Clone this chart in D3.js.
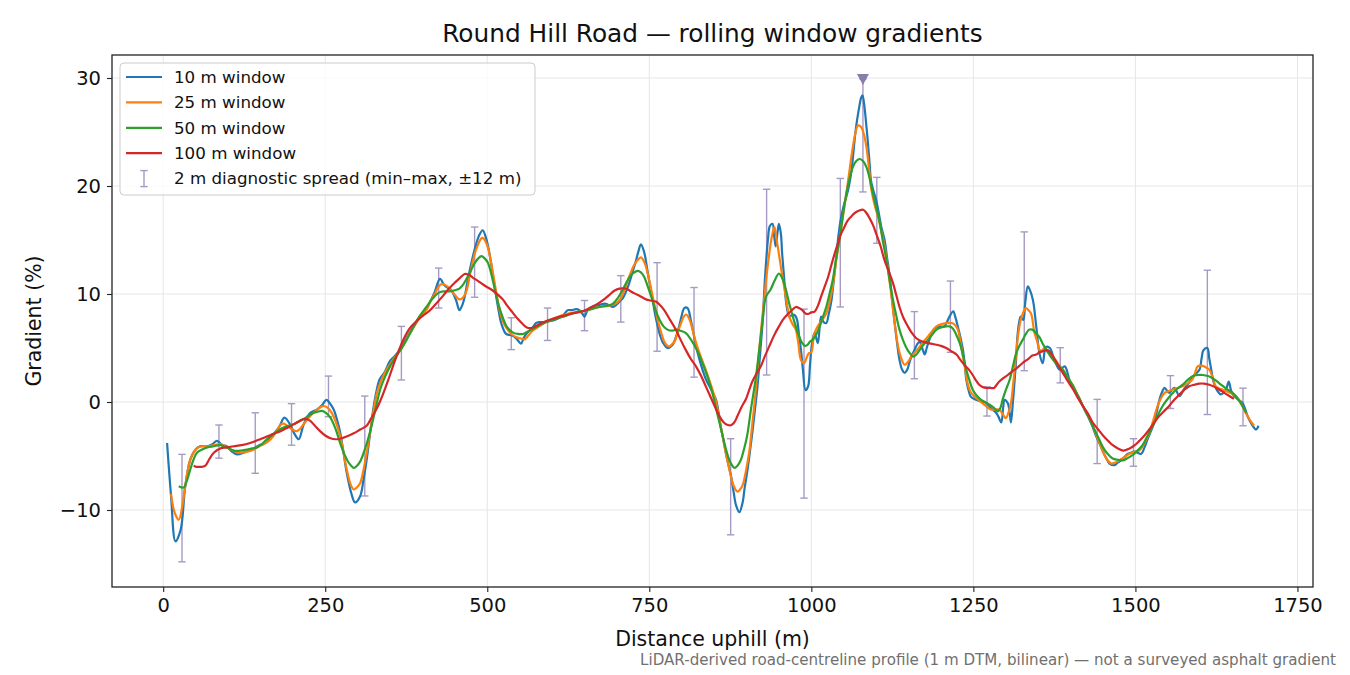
<!DOCTYPE html>
<html>
<head>
<meta charset="utf-8">
<script src="https://cdn.jsdelivr.net/npm/d3@7"></script>
<style>
  html, body { margin: 0; padding: 0; background: #fff; }
  svg { display: block; font-family: "DejaVu Sans", sans-serif; }
</style>
</head>
<body>
<div id="chart"></div>
<script>
// rolling window gradient series, [distance m, gradient %]
const win10 = [[6,-3.8],[12,-8.6],[19,-12.9],[27,-11.8],[34,-7.8],[42,-5.3],[50,-4.4],[57,-4.1],[68,-4.1],[76,-3.9],[83,-3.6],[91,-4.0],[98,-4.1],[106,-4.6],[114,-4.85],[124,-4.7],[132,-4.5],[140,-4.3],[148,-4.0],[155,-3.9],[163,-3.5],[170,-3.0],[179,-2.3],[187,-1.45],[196,-2.1],[203,-3.0],[209,-3.45],[216,-2.2],[222,-1.4],[227,-1.0],[237,-0.7],[245,-0.3],[252,0.2],[258,-0.2],[263,-0.7],[268,-1.6],[273,-2.8],[278,-4.6],[283,-6.5],[290,-8.4],[296,-9.3],[304,-8.7],[309,-7.2],[314,-5.3],[319,-3.0],[324,-0.7],[329,1.0],[334,2.1],[342,2.8],[350,3.8],[358,4.3],[367,5.0],[376,6.0],[385,6.9],[395,7.8],[406,8.6],[412,9.3],[419,10.2],[427,11.4],[434,10.8],[445,10.3],[452,9.4],[457,8.5],[461,8.9],[465,9.7],[469,11.0],[473,12.2],[480,14.0],[488,15.5],[493,15.9],[498,15.2],[502,14.2],[506,12.8],[510,11.2],[514,9.7],[518,8.3],[522,7.2],[529,6.3],[535,6.2],[540,6.1],[546,5.8],[552,5.4],[556,5.9],[560,6.3],[570,6.9],[575,7.3],[581,7.4],[589,7.4],[596,7.5],[604,7.6],[611,7.8],[618,8.1],[624,8.5],[630,8.5],[637,8.6],[642,8.5],[647,8.15],[650,7.9],[654,8.4],[658,8.7],[665,8.9],[673,9.0],[683,9.1],[693,8.8],[699,9.0],[704,9.3],[709,9.6],[714,10.2],[719,11.0],[724,12.0],[729,13.0],[733,13.9],[737,14.6],[742,13.9],[747,12.2],[751,10.8],[755,9.5],[759,8.1],[763,7.0],[767,6.1],[771,5.5],[778,5.0],[786,5.3],[791,6.0],[796,7.0],[800,8.0],[804,8.7],[809,8.7],[814,7.6],[818,6.4],[822,5.2],[827,4.0],[832,3.0],[838,2.0],[845,1.2],[850,0.6],[853,0.2],[857,-1.0],[860,-2.2],[864,-3.4],[868,-4.7],[872,-5.8],[876,-6.8],[880,-8.3],[884,-9.6],[889,-10.2],[894,-9.3],[897,-8.0],[901,-6.5],[905,-4.7],[909,-2.8],[913,-0.7],[917,1.5],[921,4.5],[925,7.6],[928,11.0],[930,12.8],[933,15.0],[936,16.3],[940,16.5],[943,15.2],[945,14.4],[948,15.8],[950,16.5],[953,15.6],[955,13.7],[958,11.5],[960,9.8],[963,8.5],[966,7.9],[971,8.1],[975,8.0],[978,7.6],[981,6.2],[984,4.8],[987,3.0],[991,1.1],[995,1.45],[998,3.5],[1001,5.4],[1005,6.4],[1010,5.45],[1015,7.9],[1019,7.4],[1023,7.3],[1027,8.2],[1031,9.4],[1035,11.5],[1039,13.7],[1042,15.5],[1046,17.1],[1050,18.2],[1054,19.0],[1058,20.0],[1062,21.45],[1066,23.8],[1069,25.45],[1073,27.0],[1077,28.2],[1079,28.4],[1082,27.3],[1085,25.5],[1087,24.2],[1090,22.0],[1092,20.5],[1096,19.5],[1100,18.7],[1104,17.5],[1108,16.2],[1113,15.0],[1117,13.3],[1121,11.6],[1124,9.8],[1128,7.6],[1132,5.6],[1136,3.9],[1140,3.0],[1144,2.7],[1148,3.0],[1151,3.6],[1155,4.3],[1159,4.8],[1163,5.3],[1167,5.6],[1171,5.0],[1175,4.4],[1178,5.0],[1182,5.75],[1186,6.4],[1190,6.8],[1198,7.0],[1205,7.0],[1210,7.5],[1213,7.9],[1219,8.4],[1222,7.9],[1226,7.0],[1230,6.0],[1234,4.8],[1237,3.3],[1239,2.1],[1243,1.0],[1246,0.5],[1254,0.2],[1262,0.06],[1270,-0.1],[1277,-0.55],[1285,-1.0],[1289,-1.4],[1293,-1.9],[1296,-0.5],[1298,0.2],[1303,-0.1],[1306,-1.0],[1308,-1.9],[1311,0.0],[1313,1.5],[1316,4.0],[1318,6.1],[1321,7.5],[1323,7.9],[1327,7.6],[1330,9.2],[1334,10.7],[1337,10.4],[1342,9.4],[1347,7.0],[1352,4.5],[1357,3.6],[1362,5.1],[1368,5.0],[1375,3.9],[1383,3.0],[1391,3.3],[1398,2.1],[1403,1.4],[1409,0.85],[1414,0.3],[1419,-0.4],[1424,-1.0],[1429,-1.6],[1434,-2.3],[1439,-3.1],[1445,-3.9],[1450,-4.6],[1455,-5.2],[1460,-5.7],[1468,-5.85],[1473,-5.6],[1478,-5.4],[1483,-5.1],[1488,-4.8],[1493,-4.7],[1498,-4.6],[1503,-4.7],[1509,-4.8],[1514,-4.2],[1519,-3.4],[1524,-2.7],[1529,-1.9],[1533,-0.9],[1537,0.2],[1541,0.9],[1545,1.3],[1552,0.85],[1560,1.3],[1568,0.55],[1575,1.2],[1583,1.8],[1591,2.5],[1599,3.0],[1602,4.0],[1605,4.8],[1611,5.0],[1614,4.0],[1617,3.0],[1620,2.0],[1624,1.3],[1632,0.7],[1640,1.2],[1644,1.9],[1647,1.2],[1650,0.7],[1658,0.25],[1665,-0.06],[1669,-0.6],[1673,-1.3],[1677,-1.8],[1681,-2.2],[1686,-2.55],[1690,-2.2]];

const win25 = [[12,-8.5],[18,-10.3],[24,-10.9],[29,-9.8],[34,-7.8],[42,-5.3],[52,-4.3],[60,-4.1],[68,-4.1],[78,-4.0],[88,-3.9],[96,-4.1],[104,-4.4],[112,-4.6],[119,-4.7],[130,-4.6],[140,-4.4],[148,-4.1],[155,-3.9],[163,-3.6],[170,-3.15],[176,-2.6],[181,-2.1],[186,-2.0],[191,-2.2],[198,-2.5],[206,-2.7],[211,-2.5],[216,-2.1],[224,-1.5],[232,-1.0],[240,-0.6],[247,-0.37],[253,-0.5],[260,-1.0],[266,-1.8],[273,-3.15],[278,-4.6],[283,-6.2],[289,-7.6],[294,-8.1],[299,-7.9],[304,-7.5],[309,-6.3],[314,-4.7],[319,-2.9],[324,-1.0],[330,0.9],[335,1.8],[342,2.7],[350,3.5],[358,4.2],[367,4.9],[376,5.9],[385,6.8],[395,7.7],[406,8.5],[412,9.3],[419,10.0],[424,10.6],[429,10.9],[436,10.8],[442,10.5],[450,9.9],[457,9.5],[463,9.7],[468,10.3],[473,11.7],[478,13.1],[482,14.0],[486,14.6],[490,15.1],[493,15.2],[497,14.9],[501,14.3],[505,13.2],[509,11.85],[514,10.1],[519,8.5],[524,7.5],[529,6.9],[537,6.3],[545,6.0],[551,5.9],[558,5.8],[564,6.2],[570,6.6],[580,7.0],[591,7.4],[605,7.8],[622,8.15],[637,8.3],[652,8.45],[660,8.6],[673,8.8],[684,8.9],[694,9.0],[700,9.2],[706,9.6],[713,10.6],[719,11.6],[725,12.5],[730,13.0],[737,13.4],[741,13.1],[745,12.5],[749,11.5],[753,10.4],[758,9.0],[763,7.6],[768,6.5],[773,5.6],[777,5.25],[781,5.15],[785,5.35],[789,5.6],[794,6.5],[799,7.3],[803,7.9],[807,8.1],[810,7.9],[814,7.3],[818,6.4],[822,5.5],[830,4.1],[837,3.0],[845,1.6],[853,0.0],[860,-2.2],[868,-4.7],[873,-6.1],[878,-7.4],[882,-8.0],[886,-8.3],[890,-8.1],[894,-7.7],[899,-6.4],[904,-4.7],[909,-2.0],[914,0.9],[919,4.5],[925,8.2],[930,11.2],[935,13.7],[939,15.3],[943,16.2],[946,15.2],[950,13.7],[954,12.1],[958,10.7],[962,9.2],[966,7.9],[971,7.2],[976,6.7],[980,5.4],[984,3.9],[989,3.6],[992,4.0],[996,4.5],[1000,4.6],[1004,6.2],[1008,6.8],[1013,7.3],[1018,7.7],[1023,8.2],[1028,9.2],[1033,10.7],[1038,12.9],[1044,15.3],[1049,17.3],[1054,19.3],[1059,21.5],[1064,23.6],[1068,24.9],[1072,25.6],[1077,25.45],[1081,24.8],[1085,23.6],[1089,21.6],[1092,19.9],[1097,18.4],[1103,17.1],[1108,15.8],[1113,14.4],[1118,12.4],[1123,10.1],[1128,7.6],[1134,5.1],[1139,4.0],[1144,3.45],[1149,3.7],[1154,4.2],[1160,4.6],[1167,5.1],[1173,5.6],[1180,6.06],[1187,6.6],[1193,7.0],[1200,7.2],[1208,7.3],[1218,7.3],[1222,7.1],[1226,6.7],[1230,5.6],[1234,4.2],[1238,2.8],[1241,1.75],[1246,0.9],[1252,0.5],[1258,0.2],[1264,-0.1],[1270,-0.4],[1277,-0.7],[1284,-0.7],[1290,-0.7],[1295,-1.1],[1300,-1.5],[1304,-1.0],[1308,-0.1],[1312,2.0],[1316,4.5],[1319,6.2],[1323,7.6],[1327,8.3],[1331,8.7],[1335,8.5],[1339,8.2],[1344,6.5],[1349,5.5],[1352,4.8],[1356,4.8],[1360,5.0],[1366,4.7],[1373,4.2],[1380,3.6],[1388,3.0],[1396,2.2],[1404,1.5],[1411,0.6],[1419,-0.4],[1427,-1.3],[1434,-2.2],[1442,-3.4],[1450,-4.6],[1456,-5.3],[1463,-5.7],[1469,-5.6],[1475,-5.4],[1483,-5.1],[1491,-4.8],[1498,-4.6],[1506,-4.5],[1514,-3.8],[1522,-2.8],[1528,-1.6],[1534,-0.4],[1539,0.3],[1545,0.85],[1551,1.0],[1558,1.16],[1565,1.3],[1573,1.46],[1580,1.7],[1588,2.1],[1592,2.7],[1596,3.3],[1604,3.35],[1609,3.2],[1614,3.0],[1619,2.3],[1624,1.46],[1632,1.2],[1640,1.0],[1648,0.8],[1655,0.55],[1662,0.0],[1670,-1.0],[1676,-1.6],[1683,-2.2]];

const win50 = [[24,-7.8],[28,-7.9],[32,-7.9],[37,-7.2],[42,-6.2],[47,-5.3],[52,-4.7],[60,-4.4],[68,-4.2],[78,-4.1],[88,-4.0],[98,-4.2],[109,-4.5],[120,-4.5],[129,-4.4],[137,-4.3],[145,-4.2],[152,-3.9],[160,-3.45],[170,-3.0],[181,-2.5],[191,-2.25],[201,-2.07],[208,-1.85],[216,-1.6],[224,-1.3],[232,-1.0],[238,-0.9],[245,-0.83],[251,-1.0],[258,-1.45],[266,-2.5],[273,-3.8],[280,-4.9],[286,-5.6],[290,-5.9],[294,-6.1],[299,-5.9],[304,-5.5],[311,-4.4],[319,-2.8],[327,-0.8],[335,1.2],[342,2.3],[350,3.3],[358,4.1],[367,4.9],[376,5.8],[385,6.8],[395,7.9],[406,8.8],[416,9.6],[426,10.15],[434,10.25],[442,10.25],[450,10.35],[457,10.5],[463,10.9],[468,11.4],[474,12.1],[480,12.8],[486,13.3],[491,13.5],[496,13.3],[501,12.9],[506,11.9],[511,10.6],[517,9.1],[524,7.8],[531,6.9],[539,6.45],[547,6.3],[555,6.3],[562,6.5],[570,6.76],[580,7.1],[591,7.4],[606,7.7],[622,8.0],[637,8.3],[652,8.45],[660,8.6],[673,8.8],[684,8.9],[694,9.1],[701,9.6],[709,10.4],[715,11.1],[722,11.75],[727,12.0],[732,12.15],[737,12.0],[742,11.6],[747,10.8],[753,9.75],[759,8.6],[766,7.6],[772,7.0],[778,6.7],[785,6.6],[791,6.7],[798,6.6],[806,6.4],[813,5.9],[819,5.3],[826,4.5],[832,3.6],[840,2.3],[847,0.9],[855,-1.1],[863,-3.1],[868,-4.3],[873,-5.3],[877,-5.8],[881,-6.1],[886,-5.9],[891,-5.4],[896,-4.4],[901,-3.1],[907,-0.6],[914,2.1],[920,5.0],[925,7.6],[930,9.75],[937,10.4],[943,11.2],[950,11.9],[954,11.6],[958,11.0],[962,10.1],[966,9.1],[971,8.0],[976,7.0],[981,6.1],[986,5.46],[990,5.2],[994,5.3],[998,5.6],[1002,5.75],[1008,6.3],[1013,7.0],[1018,7.9],[1023,8.8],[1028,10.0],[1033,11.3],[1038,13.2],[1044,15.3],[1049,17.4],[1054,19.3],[1059,20.7],[1064,21.75],[1069,22.3],[1075,22.5],[1080,22.3],[1085,21.75],[1090,20.7],[1095,19.3],[1100,18.0],[1105,16.8],[1110,15.0],[1116,13.1],[1121,11.2],[1126,9.45],[1131,8.0],[1136,6.7],[1141,5.8],[1146,5.1],[1151,4.6],[1157,4.2],[1162,4.4],[1167,4.8],[1173,5.3],[1180,5.75],[1186,6.2],[1193,6.7],[1200,6.9],[1208,7.0],[1213,7.0],[1218,6.83],[1223,6.3],[1229,5.45],[1234,4.3],[1239,3.0],[1244,2.0],[1249,1.14],[1255,0.6],[1262,0.2],[1268,0.0],[1275,-0.25],[1281,-0.5],[1288,-0.86],[1292,-0.5],[1295,0.2],[1300,1.1],[1306,2.06],[1311,3.3],[1316,4.5],[1321,5.2],[1326,5.75],[1331,6.3],[1336,6.7],[1341,6.7],[1347,6.34],[1352,6.0],[1357,5.4],[1365,4.6],[1373,3.9],[1380,3.4],[1388,3.0],[1396,2.2],[1404,1.46],[1411,0.6],[1419,-0.37],[1427,-1.3],[1434,-2.2],[1442,-3.2],[1450,-4.2],[1457,-4.8],[1465,-5.24],[1473,-5.35],[1481,-5.4],[1488,-5.2],[1496,-4.9],[1503,-4.5],[1511,-4.0],[1519,-3.1],[1527,-2.2],[1534,-1.3],[1542,-0.37],[1550,0.3],[1558,0.85],[1565,1.25],[1573,1.6],[1580,2.0],[1588,2.38],[1596,2.5],[1604,2.5],[1612,2.4],[1619,2.2],[1626,1.9],[1632,1.6],[1641,1.2],[1650,0.85],[1658,0.3],[1665,-0.37],[1671,-1.0]];

const win100 = [[47,-5.9],[51,-6.0],[55,-6.0],[60,-6.0],[65,-5.9],[71,-5.3],[78,-4.7],[88,-4.3],[98,-4.2],[109,-4.1],[121,-4.0],[134,-3.8],[147,-3.5],[160,-3.2],[170,-2.95],[181,-2.7],[191,-2.4],[201,-2.07],[209,-1.8],[216,-1.6],[222,-1.6],[227,-1.75],[234,-2.2],[242,-2.7],[250,-3.1],[258,-3.35],[266,-3.45],[273,-3.4],[283,-3.2],[294,-2.9],[304,-2.55],[314,-2.2],[320,-1.6],[326,-1.0],[332,-0.3],[339,0.7],[347,2.0],[358,3.9],[370,5.7],[380,6.8],[391,7.5],[401,8.0],[411,8.45],[421,9.1],[432,9.85],[441,10.5],[450,11.05],[458,11.5],[465,11.85],[471,11.8],[478,11.5],[486,11.2],[493,10.9],[501,10.6],[509,10.3],[517,9.9],[524,9.5],[531,8.9],[539,8.3],[547,7.7],[555,7.2],[561,6.9],[568,6.85],[574,7.0],[580,7.2],[591,7.5],[601,7.7],[612,7.9],[622,8.05],[635,8.25],[647,8.4],[658,8.7],[668,9.0],[678,9.4],[688,9.9],[696,10.3],[704,10.5],[714,10.5],[720,10.3],[727,10.06],[736,9.8],[745,9.5],[752,9.4],[760,9.3],[766,9.0],[773,8.5],[782,7.6],[791,6.7],[798,5.8],[806,4.85],[814,4.0],[822,3.3],[830,2.4],[837,1.47],[845,0.4],[853,-0.67],[859,-1.4],[865,-1.9],[870,-2.1],[876,-2.15],[881,-1.9],[886,-1.3],[892,-0.5],[899,0.25],[904,1.1],[909,1.9],[915,2.6],[922,3.3],[928,4.2],[935,5.15],[942,6.1],[950,7.0],[956,7.6],[963,8.1],[970,8.5],[976,8.8],[981,8.7],[986,8.5],[991,8.2],[995,8.15],[1000,8.3],[1005,8.37],[1010,8.9],[1015,9.75],[1020,10.6],[1026,11.6],[1031,12.7],[1036,13.75],[1041,14.7],[1046,15.6],[1051,16.2],[1056,16.8],[1062,17.2],[1067,17.5],[1073,17.7],[1080,17.8],[1085,17.5],[1090,17.0],[1095,16.4],[1100,15.6],[1107,14.4],[1113,13.1],[1120,12.0],[1126,11.0],[1131,9.9],[1136,8.8],[1142,7.8],[1149,7.0],[1155,6.4],[1162,5.9],[1169,5.65],[1177,5.5],[1185,5.4],[1193,5.3],[1200,5.2],[1208,5.0],[1216,4.7],[1224,4.4],[1230,3.9],[1236,3.45],[1243,3.0],[1249,2.5],[1254,2.0],[1259,1.6],[1264,1.4],[1270,1.3],[1276,1.3],[1282,1.3],[1286,1.6],[1290,1.9],[1296,2.2],[1303,2.5],[1309,2.8],[1316,3.1],[1322,3.4],[1329,3.75],[1335,4.0],[1341,4.3],[1347,4.4],[1352,4.6],[1357,4.7],[1365,4.8],[1373,4.2],[1380,3.5],[1388,2.7],[1396,1.9],[1404,1.16],[1411,0.4],[1419,-0.37],[1427,-1.1],[1434,-1.9],[1442,-2.5],[1450,-3.1],[1458,-3.6],[1465,-4.0],[1473,-4.3],[1481,-4.5],[1491,-4.3],[1499,-4.0],[1506,-3.6],[1514,-3.1],[1522,-2.5],[1529,-1.9],[1537,-1.28],[1545,-0.8],[1552,-0.37],[1560,0.2],[1568,0.7],[1575,1.1],[1583,1.46],[1591,1.6],[1599,1.7],[1606,1.7],[1614,1.6],[1622,1.4],[1629,1.16],[1637,0.85],[1645,0.55],[1652,0.3]];

// 2 m diagnostic spread (min/max within +-12 m)
const spreadDist = [29, 86, 142, 198, 255, 311, 367.5, 425, 480.5, 537, 593, 650, 706, 762, 819, 875.5, 931, 988.7, 1044.7, 1101, 1159, 1214.6, 1271, 1328.5, 1384, 1441, 1497, 1554, 1611, 1666];
const spreadMin = [-14.8, -5.2, -6.6, -4.0, -1.36, -8.7, 2.04, 8.7, 9.7, 4.85, 5.7, 6.6, 7.4, 4.7, 2.3, -12.3, 2.5, -8.9, 8.8, 14.7, 2.15, 4.6, -1.3, 2.9, 1.77, -5.7, -5.95, -0.6, -1.16, -2.2];
const spreadMax = [-4.85, -2.13, -1.0, -0.15, 2.4, 0.55, 7.0, 12.4, 16.2, 7.8, 8.7, 9.4, 11.7, 12.9, 10.6, -3.4, 19.7, 8.6, 20.7, 20.8, 8.37, 11.2, 1.4, 15.75, 5.03, 0.24, -3.4, 2.44, 12.2, 1.28];

// steepest point
const peakDist = 1079.6;
const peakMin = 19.45;
const peakMax = 29.9;

const xTicks = [0, 250, 500, 750, 1000, 1250, 1500, 1750];
const yTicks = [-10, 0, 10, 20, 30];

const series = [
  { label: "10 m window", color: "#1f77b4", data: win10 },
  { label: "25 m window", color: "#ff7f0e", data: win25 },
  { label: "50 m window", color: "#2ca02c", data: win50 },
  { label: "100 m window", color: "#d62728", data: win100 }
];

const W = 1350, H = 675;
const margin = { top: 55, right: 37, bottom: 88, left: 112 };
const spreadColor = "#a69ac4";

const svg = d3.select("#chart").append("svg")
  .attr("width", W)
  .attr("height", H);

const x = d3.scaleLinear().domain([-79, 1774]).range([margin.left, W - margin.right]);
const y = d3.scaleLinear().domain([-17.13, 32.13]).range([H - margin.bottom, margin.top]);

// grid
const grid = svg.append("g").attr("class", "grid");
grid.selectAll(".gx").data(xTicks).enter().append("line")
  .attr("x1", d => x(d)).attr("x2", d => x(d))
  .attr("y1", margin.top).attr("y2", H - margin.bottom)
  .attr("stroke", "#e6e6e6").attr("stroke-width", 1);
grid.selectAll(".gy").data(yTicks).enter().append("line")
  .attr("x1", margin.left).attr("x2", W - margin.right)
  .attr("y1", d => y(d)).attr("y2", d => y(d))
  .attr("stroke", "#e6e6e6").attr("stroke-width", 1);

const plot = svg.append("g");

// spread error bars behind the lines
const bars = d3.range(spreadDist.length).map(i => ({ d: spreadDist[i], lo: spreadMin[i], hi: spreadMax[i] }));
bars.push({ d: peakDist, lo: peakMin, hi: peakMax });

const barG = plot.selectAll(".spread").data(bars).enter().append("g")
  .attr("stroke", spreadColor).attr("stroke-width", 1.4).attr("fill", "none");
barG.append("line")
  .attr("x1", b => x(b.d)).attr("x2", b => x(b.d))
  .attr("y1", b => y(b.lo)).attr("y2", b => y(b.hi));
barG.append("line")
  .attr("x1", b => x(b.d) - 3.7).attr("x2", b => x(b.d) + 3.7)
  .attr("y1", b => y(b.lo)).attr("y2", b => y(b.lo));
barG.append("line")
  .attr("x1", b => x(b.d) - 3.7).attr("x2", b => x(b.d) + 3.7)
  .attr("y1", b => y(b.hi)).attr("y2", b => y(b.hi));

const line = d3.line()
  .x(d => x(d[0]))
  .y(d => y(d[1]))
  .curve(d3.curveCatmullRom.alpha(0.5));

plot.selectAll(".series").data(series).enter().append("path")
  .attr("d", s => line(s.data))
  .attr("fill", "none")
  .attr("stroke", s => s.color)
  .attr("stroke-width", 2.2)
  .attr("stroke-linejoin", "round");

// peak marker (downward triangle)
const px = x(peakDist), py = y(peakMax);
plot.append("path")
  .attr("d", `M${px - 6},${py - 5} L${px + 6},${py - 5} L${px},${py + 6} Z`)
  .attr("fill", "#8a7cab");

// axes
const xAxis = d3.axisBottom(x).tickValues(xTicks).tickSize(5).tickPadding(6).tickFormat(d3.format("d"));
const yAxis = d3.axisLeft(y).tickValues(yTicks).tickSize(5).tickPadding(6)
  .tickFormat(d => d < 0 ? "\u2212" + Math.abs(d) : d);

const gx = svg.append("g").attr("transform", `translate(0,${H - margin.bottom})`).call(xAxis);
const gy = svg.append("g").attr("transform", `translate(${margin.left},0)`).call(yAxis);
[gx, gy].forEach(g => {
  g.select(".domain").remove();
  g.selectAll(".tick line").attr("stroke", "#222").attr("stroke-width", 1.1);
  g.selectAll(".tick text").attr("fill", "#111").style("font-size", "19.5px").style("font-family", "DejaVu Sans");
});

// frame
svg.append("rect")
  .attr("x", margin.left).attr("y", margin.top)
  .attr("width", W - margin.left - margin.right)
  .attr("height", H - margin.top - margin.bottom)
  .attr("fill", "none").attr("stroke", "#222").attr("stroke-width", 1.3);

// titles
svg.append("text")
  .attr("x", (margin.left + W - margin.right) / 2).attr("y", 42)
  .attr("text-anchor", "middle")
  .style("font-size", "24.8px").attr("fill", "#111")
  .text("Round Hill Road \u2014 rolling window gradients");

svg.append("text")
  .attr("x", (margin.left + W - margin.right) / 2).attr("y", 646)
  .attr("text-anchor", "middle")
  .style("font-size", "20.5px").attr("fill", "#111")
  .text("Distance uphill (m)");

svg.append("text")
  .attr("transform", `translate(41,${(margin.top + H - margin.bottom) / 2}) rotate(-90)`)
  .attr("text-anchor", "middle")
  .style("font-size", "20.5px").attr("fill", "#111")
  .text("Gradient (%)");

svg.append("text")
  .attr("x", 1336).attr("y", 665)
  .attr("text-anchor", "end")
  .style("font-size", "15.1px").attr("fill", "#707070")
  .text("LiDAR-derived road-centreline profile (1 m DTM, bilinear) \u2014 not a surveyed asphalt gradient");

// legend
const legend = svg.append("g").attr("transform", "translate(120,63)");
legend.append("rect")
  .attr("width", 415).attr("height", 132).attr("rx", 4)
  .attr("fill", "#fff").attr("fill-opacity", 0.8)
  .attr("stroke", "#cccccc").attr("stroke-width", 1);

const rowY = i => 14 + i * 25.4;
series.forEach((s, i) => {
  legend.append("line")
    .attr("x1", 6).attr("x2", 42)
    .attr("y1", rowY(i)).attr("y2", rowY(i))
    .attr("stroke", s.color).attr("stroke-width", 2.2);
  legend.append("text")
    .attr("x", 54).attr("y", rowY(i)).attr("dy", "0.35em")
    .style("font-size", "16.7px").attr("fill", "#111")
    .text(s.label);
});
const ey = rowY(4);
const eg = legend.append("g").attr("stroke", spreadColor).attr("stroke-width", 1.4);
eg.append("line").attr("x1", 24).attr("x2", 24).attr("y1", ey - 8).attr("y2", ey + 8);
eg.append("line").attr("x1", 20.3).attr("x2", 27.7).attr("y1", ey - 8).attr("y2", ey - 8);
eg.append("line").attr("x1", 20.3).attr("x2", 27.7).attr("y1", ey + 8).attr("y2", ey + 8);
legend.append("text")
  .attr("x", 54).attr("y", ey).attr("dy", "0.35em")
  .style("font-size", "16.7px").attr("fill", "#111")
  .text("2 m diagnostic spread (min\u2013max, \u00b112 m)");
</script>
</body>
</html>
